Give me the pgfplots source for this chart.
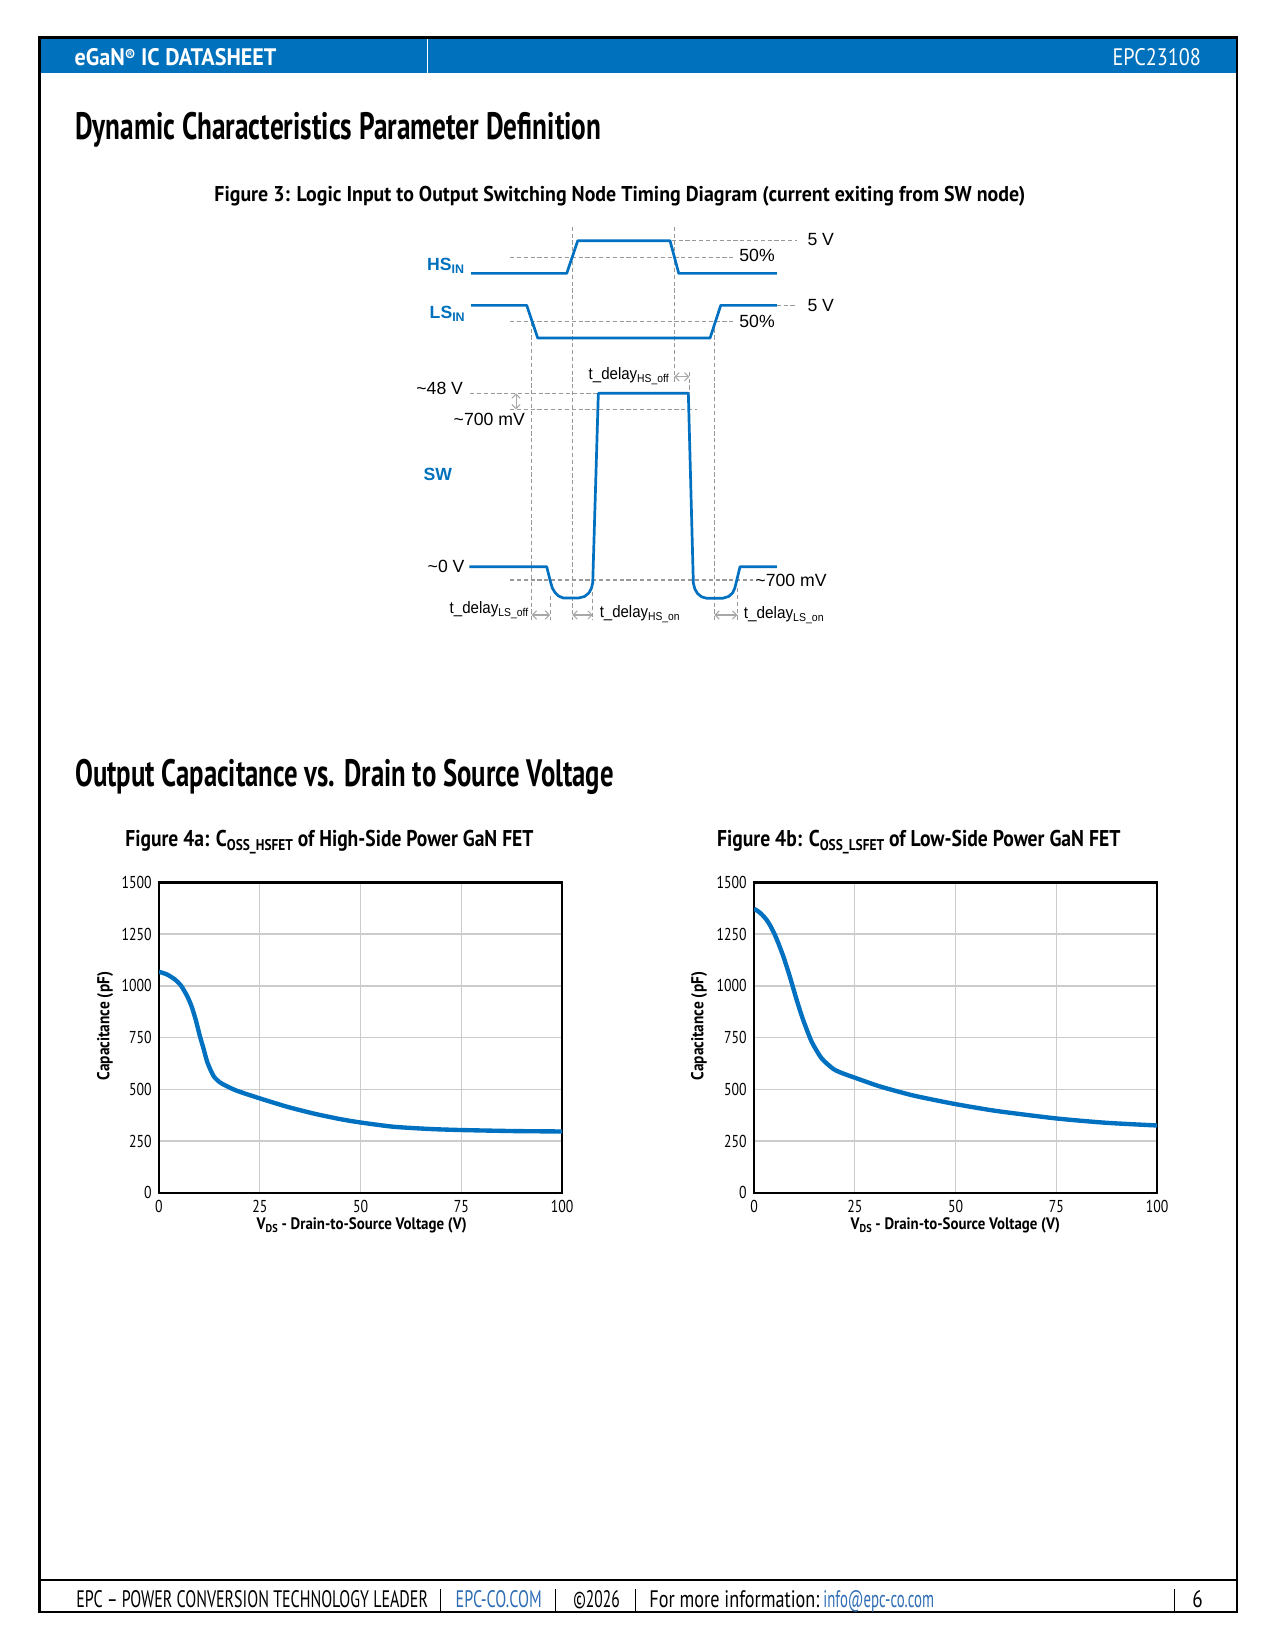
\documentclass[border=0pt]{standalone}
\usepackage{pgfplots}
\pgfplotsset{compat=1.18}
\usetikzlibrary{arrows.meta}
\usepackage{fontspec}
\usepackage{graphicx}
\setmainfont{PT Sans}
\newfontfamily\cond[FakeStretch=0.8]{PT Sans}
\newfontfamily\arial{Liberation Sans}
\definecolor{epcblue}{HTML}{0071BC}
\definecolor{linkblue}{HTML}{2F6EB5}
\definecolor{curveblue}{HTML}{0070C0}
\definecolor{gridgray}{HTML}{CCCCCC}
\definecolor{dashgray}{HTML}{999999}
\definecolor{arrowgray}{HTML}{A8A8A8}
\newcommand{\fitw}[2]{\resizebox{#1}{\height}{#2}}
\newcommand{\fs}[1]{\fontsize{#1}{#1}\selectfont}
\pgfplotsset{
  dashg/.style={dashgray, line width=0.5pt, dash pattern=on 2pt off 1.3pt, forget plot},
  arrg/.style={arrowgray, line width=0.5pt, {Straight Barb[length=2pt,width=4pt]}-{Straight Barb[length=2pt,width=4pt]}, forget plot},
  wave/.style={curveblue, line width=1.3pt, line join=round, forget plot},
  coss/.style={scale only axis, width=194.2pt, height=149.5pt, anchor=south west,
    xmin=0, xmax=100, ymin=0, ymax=1500,
    xtick={0,25,50,75,100}, ytick={0,250,500,750,1000,1250,1500},
    grid=major, major grid style={gridgray, line width=0.65pt},
    axis line style={black, line width=1.1pt}, major tick length=0pt,
    tick label style={font=\cond\fs{8.3}},
    /pgf/number format/assume math mode=true, /pgf/number format/1000 sep={}},
}
\begin{document}
\begin{tikzpicture}[x=0.4818pt,y=-0.4818pt]
\fill[white] (0,0) rectangle (1275,1650);
% header band and frame
\fill[epcblue] (39.5,38) rectangle (1237,73.3);
\draw[white,line width=0.7pt] (427.7,38.5) -- (427.7,73.3);
\draw[black,line width=1pt] (39.5,37.5) rectangle (1237,1612.3);
\draw[black,line width=1pt] (39.5,1580) -- (1237,1580);
\node[anchor=base west,inner sep=0,text=white] at (74.3,65.6) {\fitw{97.2pt}{\cond\bfseries\fs{11.5}eGaN\raisebox{0.35ex}{\fs{8}®} IC DATASHEET}};
\node[anchor=base east,inner sep=0,text=white] at (1201.4,65.6) {\fitw{42.6pt}{\cond\fs{11.5}EPC23108}};
% headings
\node[anchor=base west,inner sep=0] at (75,139.1) {\fitw{253.4pt}{\cond\bfseries\fs{18.4}Dynamic Characteristics Parameter Definition}};
\node[anchor=base west,inner sep=0] at (214,201.5) {\fitw{390.7pt}{\cond\bfseries\fs{10.3}Figure 3: Logic Input to Output Switching Node Timing Diagram (current exiting from SW node)}};
\node[anchor=base west,inner sep=0] at (74.7,786.4) {\fitw{259.5pt}{\cond\bfseries\fs{18.4}Output Capacitance vs. Drain to Source Voltage}};
\node[anchor=base west,inner sep=0] at (125,846) {\fitw{196.6pt}{\cond\bfseries\fs{11}Figure 4a: C\raisebox{-2pt}{\fs{7.5}OSS\_HSFET} of High-Side Power GaN FET}};
\node[anchor=base west,inner sep=0] at (716.7,846) {\fitw{194.3pt}{\cond\bfseries\fs{11}Figure 4b: C\raisebox{-2pt}{\fs{7.5}OSS\_LSFET} of Low-Side Power GaN FET}};
% footer
\node[anchor=base west,inner sep=0] at (76,1607.3) {\fitw{169.4pt}{\cond\fs{11.5}EPC – POWER CONVERSION TECHNOLOGY LEADER}};
\node[anchor=base west,inner sep=0,text=linkblue] at (455.3,1607.3) {\fitw{41.5pt}{\cond\fs{11.5}EPC-CO.COM}};
\node[anchor=base west,inner sep=0] at (573,1607.3) {\fitw{22.4pt}{\cond\fs{11.5}©2026}};
\node[anchor=base west,inner sep=0] at (649,1607.3) {\fitw{81.9pt}{\cond\fs{11.5}For more information:}};
\node[anchor=base west,inner sep=0,text=linkblue] at (823,1607.3) {\fitw{53.3pt}{\cond\fs{11.5}info@epc-co.com}};
\node[anchor=base,inner sep=0] at (1197.5,1607.3) {\cond\fs{11.5}6};
\foreach \xx in {440.5,555.9,635.5,1174.5} {\draw[black,line width=0.5pt] (\xx,1589) -- (\xx,1612);}
% ---------------- timing diagram ----------------
\coordinate (td) at (400,625);
\begin{axis}[at={(td)}, anchor=south west, scale only axis,
  width=196.6pt, height=197.5pt,
  xmin=400, xmax=808, ymin=215, ymax=625, y dir=reverse,
  hide axis, clip=false]
% dashed guide lines
\addplot[dashg] coordinates {(671.7,240.7) (796.7,240.7)};
\addplot[dashg] coordinates {(510,257.3) (733,257.3)};
\addplot[dashg] coordinates {(776.7,305.3) (796.7,305.3)};
\addplot[dashg] coordinates {(510,321.7) (733,321.7)};
\addplot[dashg] coordinates {(470,393.3) (598,393.3)};
\addplot[dashg] coordinates {(510,409.3) (696.7,409.3)};
\addplot[dashg] coordinates {(510,580) (753.3,580)};
\addplot[dashg] coordinates {(531.7,321.7) (531.7,620)};
\addplot[dashg] coordinates {(572.3,226.7) (572.3,620)};
\addplot[dashg] coordinates {(674.3,226.7) (674.3,382)};
\addplot[dashg] coordinates {(689.3,371.7) (689.3,393.3)};
\addplot[dashg] coordinates {(714.3,321.7) (714.3,620)};
\addplot[dashg] coordinates {(550,596) (550,620)};
\addplot[dashg] coordinates {(592.7,592) (592.7,620)};
\addplot[dashg] coordinates {(737.3,588) (737.3,620)};
% delay arrows
\addplot[arrg] coordinates {(674.3,376.7) (689.3,376.7)};
\addplot[arrg] coordinates {(516,393.3) (516,409.3)};
\addplot[arrg] coordinates {(531.7,615) (550,615)};
\addplot[arrg] coordinates {(572.3,615) (592.7,615)};
\addplot[arrg] coordinates {(714.3,615) (737.3,615)};
% waveforms
\addplot[wave] coordinates {(471,273.3) (566.7,273.3) (577.7,240.7) (670,240.7) (678.7,273.3) (776.7,273.3)};
\addplot[wave] coordinates {(471,305.3) (526.7,305.3) (537.7,338) (710,338) (720.7,305.3) (776.7,305.3)};
\addplot[wave] coordinates {(469.3,566.7) (546.7,566.7) (550.5,582) (552.3,588) (555,592.5) (558.5,596) (563.3,598) (578.5,598) (584.5,596.5) (588.8,593) (591.3,588.5) (592.7,583) (598.3,393.3) (688.3,393.3) (693.3,583) (694.8,589) (697.5,593.5) (701.5,596.8) (706.7,598.3) (722.5,598.3) (728.5,596.5) (732.5,593) (734.8,588) (740,566.7) (776.7,566.7)};
% labels
\node[anchor=center,inner sep=0] at (axis cs:820.7,239.3) {\arial\fs{8.5}5 V};
\node[anchor=center,inner sep=0] at (axis cs:757,255) {\arial\fs{8.5}50\%};
\node[anchor=center,inner sep=0] at (axis cs:820.7,305.5) {\arial\fs{8.5}5 V};
\node[anchor=center,inner sep=0] at (axis cs:757,321) {\arial\fs{8.5}50\%};
\node[anchor=base west,inner sep=0,text=epcblue] at (axis cs:426.7,270) {\arial\bfseries\fs{8.5}HS\raisebox{-1.5pt}{\fs{6}IN}};
\node[anchor=base west,inner sep=0,text=epcblue] at (axis cs:429.3,318.3) {\arial\bfseries\fs{8.5}LS\raisebox{-1.5pt}{\fs{6}IN}};
\node[anchor=base west,inner sep=0,text=epcblue] at (axis cs:423.3,480.7) {\arial\bfseries\fs{8.5}SW};
\node[anchor=base west,inner sep=0] at (axis cs:416,394) {\arial\fs{8.5}\textasciitilde 48 V};
\node[anchor=base west,inner sep=0] at (axis cs:453.3,425) {\arial\fs{8.5}\textasciitilde 700 mV};
\node[anchor=base west,inner sep=0] at (axis cs:427.3,572.7) {\arial\fs{8.5}\textasciitilde 0 V};
\node[anchor=base west,inner sep=0] at (axis cs:755,586) {\arial\fs{8.5}\textasciitilde 700 mV};
\node[anchor=base west,inner sep=0] at (axis cs:588.3,379.3) {\fitw{38.5pt}{\arial\fs{8}t\_delay\raisebox{-1.5pt}{\fs{5.5}HS\_off}}};
\node[anchor=base west,inner sep=0] at (axis cs:449.3,613.3) {\fitw{37.8pt}{\arial\fs{8}t\_delay\raisebox{-1.5pt}{\fs{5.5}LS\_off}}};
\node[anchor=base west,inner sep=0] at (axis cs:599.3,617.3) {\fitw{38.5pt}{\arial\fs{8}t\_delay\raisebox{-1.5pt}{\fs{5.5}HS\_on}}};
\node[anchor=base west,inner sep=0] at (axis cs:743.3,618.3) {\fitw{38.5pt}{\arial\fs{8}t\_delay\raisebox{-1.5pt}{\fs{5.5}LS\_on}}};
\end{axis}
% ---------------- Figure 4a ----------------
\coordinate (a4) at (159,1192.7);
\begin{axis}[coss, at={(a4)}]
\addplot[curveblue, line width=2.1pt, smooth, tension=0.4] coordinates {
(0,1068) (2,1055) (4,1030) (5.5,1000) (7,950) (8.1,900) (9.2,830) (10.1,760) (11,700) (12,630) (13.5,565) (15,535) (16.5,518) (19.3,493) (25,456) (31.7,416) (38.3,383) (44.9,356) (49.8,340) (58.1,319) (67.2,308) (75,303) (87.9,298) (100,296)};
\end{axis}
\node[rotate=90,anchor=base,inner sep=0] at (109.3,1026) {\fitw{52.2pt}{\cond\bfseries\fs{8.3}Capacitance (pF)}};
\node[anchor=base,inner sep=0] at (361.7,1229.3) {\fitw{101.2pt}{\cond\bfseries\fs{8}V\raisebox{-1.3pt}{\fs{5.5}DS} - Drain-to-Source Voltage (V)}};
% ---------------- Figure 4b ----------------
\coordinate (b4) at (754,1192.7);
\begin{axis}[coss, at={(b4)}]
\addplot[curveblue, line width=2.1pt, smooth, tension=0.4] coordinates {
(0,1372) (1,1361) (2,1344) (3,1322) (4,1292) (5,1254) (6,1208) (7.3,1141) (8.9,1044) (10.6,931) (12.2,835) (14.3,730) (16.8,649) (19.7,598) (22,577) (25,556) (31.2,514) (39.5,470) (49.8,429) (60.2,395) (75,359) (87.4,338) (100,325)};
\end{axis}
\node[rotate=90,anchor=base,inner sep=0] at (703.3,1026) {\fitw{52.2pt}{\cond\bfseries\fs{8.3}Capacitance (pF)}};
\node[anchor=base,inner sep=0] at (955.3,1229.3) {\fitw{100.8pt}{\cond\bfseries\fs{8}V\raisebox{-1.3pt}{\fs{5.5}DS} - Drain-to-Source Voltage (V)}};
\end{tikzpicture}
\end{document}
